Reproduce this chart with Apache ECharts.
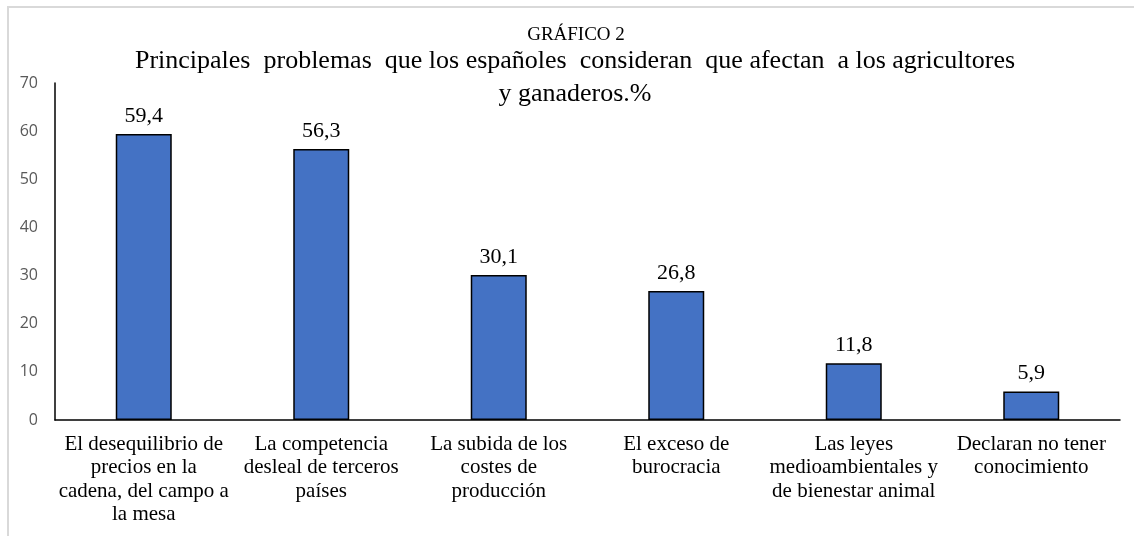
<!DOCTYPE html>
<html>
<head>
<meta charset="utf-8">
<script src="https://cdn.jsdelivr.net/npm/echarts@6/dist/echarts.min.js"></script>
<style>
html,body{margin:0;padding:0;background:#fff;}
#frame{position:absolute;left:7px;top:6px;width:1140px;height:540px;border:2px solid #d9d9d9;box-sizing:border-box;}
#chart{position:absolute;left:0;top:0;width:1134px;height:536px;}
</style>
</head>
<body>
<div id="frame"></div>
<div id="chart"></div>
<script>
const categories = [
  "El desequilibrio de\nprecios en la\ncadena, del campo a\nla mesa",
  "La competencia\ndesleal de terceros\npaíses",
  "La subida de los\ncostes de\nproducción",
  "El exceso de\nburocracia",
  "Las leyes\nmedioambientales y\nde bienestar animal",
  "Declaran no tener\nconocimiento"
];
const values = [59.4, 56.3, 30.1, 26.8, 11.8, 5.9];
const supTitle = "GRÁFICO 2";
const mainTitle = "Principales  problemas  que los españoles  consideran  que afectan  a los agricultores\ny ganaderos.%";

const SERIF = "'Liberation Serif', 'Times New Roman', 'DejaVu Serif', serif";
const chart = echarts.init(document.getElementById('chart'), null, {renderer:'canvas'});
chart.setOption({
  animation:false,
  backgroundColor:'transparent',
  title:[
    {text:supTitle, left:576, top:26, textAlign:'center', padding:0,
     textStyle:{fontFamily:SERIF, fontSize:19, fontWeight:'normal', color:'#000', lineHeight:19}},
    {text:mainTitle, left:575, top:45, textAlign:'center', padding:0,
     textStyle:{fontFamily:SERIF, fontSize:26, fontWeight:'normal', color:'#000', lineHeight:33}}
  ],
  grid:{left:55, right:14, top:83, bottom:116},
  xAxis:{
    type:'category', data:categories,
    axisLine:{lineStyle:{color:'#000', width:1.5}},
    axisTick:{show:false},
    axisLabel:{interval:0, margin:13, fontFamily:SERIF, fontSize:21, color:'#000', lineHeight:23.3}
  },
  yAxis:{
    type:'value', min:0, max:70, interval:10,
    splitLine:{show:false},
    axisLine:{show:true, lineStyle:{color:'#000', width:1.5}},
    axisTick:{show:false},
    axisLabel:{margin:17, fontFamily:"'Open Sans', sans-serif", fontSize:16, color:'#595959'}
  },
  series:[{
    type:'bar', data:values, barWidth:56,
    itemStyle:{color:'#4472C4', borderColor:'#000', borderWidth:1.5},
    label:{show:true, position:'top', distance:7, fontFamily:SERIF, fontSize:22, color:'#000',
      formatter:p=>String(p.value).replace('.', ',')}
  }]
});
</script>
</body>
</html>
